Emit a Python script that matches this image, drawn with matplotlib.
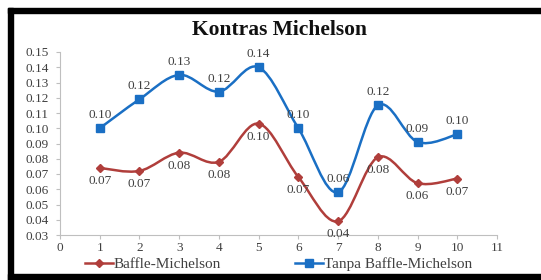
import matplotlib
matplotlib.use("Agg")
import matplotlib.pyplot as plt
import numpy as np
from matplotlib.path import Path
from matplotlib.patches import PathPatch, Rectangle
from matplotlib.lines import Line2D

x_vals = [1, 2, 3, 4, 5, 6, 7, 8, 9, 10]
baffle = [0.074, 0.072, 0.084, 0.078, 0.103, 0.068, 0.039, 0.081, 0.064, 0.067]
tanpa = [0.100, 0.119, 0.135, 0.124, 0.140, 0.100, 0.058, 0.115, 0.091, 0.096]
baffle_labels = ["0.07", "0.07", "0.08", "0.08", "0.10", "0.07", "0.04", "0.08", "0.06", "0.07"]
tanpa_labels = ["0.10", "0.12", "0.13", "0.12", "0.14", "0.10", "0.06", "0.12", "0.09", "0.10"]
title = "Kontras Michelson"
series_names = ["Baffle-Michelson", "Tanpa Baffle-Michelson"]

red = "#B03E3B"
blue = "#1A6FC4"
gray_txt = "#404040"
serif = ["Liberation Serif", "DejaVu Serif"]

fig = plt.figure(figsize=(5.41, 2.8), dpi=100)
ax = fig.add_axes([60/541, 1-235/280, (497-60)/541, (235-52)/280])
ax.set_xlim(0, 11)
ax.set_ylim(0.03, 0.15)
ax.set_xticks(range(0, 12))
ax.set_yticks(np.round(np.arange(0.03, 0.1501, 0.01), 2))
ax.set_yticklabels([f"{v:.2f}" for v in np.arange(0.03, 0.1501, 0.01)])
for s in ["top", "right"]:
    ax.spines[s].set_visible(False)
for s in ["left", "bottom"]:
    ax.spines[s].set_color("#BFBFBF")
    ax.spines[s].set_linewidth(0.8)
ax.tick_params(colors="#BFBFBF", length=3, width=0.8, labelcolor=gray_txt, labelsize=9.5)
ax.tick_params(axis="y", pad=5)
ax.tick_params(axis="x", pad=2)
for lab in ax.get_xticklabels() + ax.get_yticklabels():
    lab.set_fontfamily(serif)

def smooth_path(xs, ys):
    pts = ax.transData.transform(np.column_stack([xs, ys]))
    n = len(pts)
    verts = [pts[0]]
    codes = [Path.MOVETO]
    for i in range(n - 1):
        p0 = pts[i - 1] if i > 0 else pts[i]
        p1 = pts[i]
        p2 = pts[i + 1]
        p3 = pts[i + 2] if i + 2 < n else pts[i + 1]
        c1 = p1 + (p2 - p0) / 6.0
        c2 = p2 - (p3 - p1) / 6.0
        verts += [c1, c2, p2]
        codes += [Path.CURVE4] * 3
    inv = ax.transData.inverted()
    return Path(inv.transform(np.array(verts)), codes)

for ys, col in [(baffle, red), (tanpa, blue)]:
    patch = PathPatch(smooth_path(x_vals, ys), facecolor="none", edgecolor=col, lw=1.8, zorder=3)
    ax.add_patch(patch)

ax.plot(x_vals, baffle, linestyle="none", marker="D", ms=4.5, color=red, zorder=4)
ax.plot(x_vals, tanpa, linestyle="none", marker="s", ms=6, color=blue, zorder=4)

for xv, yv, t in zip(x_vals, tanpa, tanpa_labels):
    ax.annotate(t, (xv, yv), xytext=(0, 5), textcoords="offset points", ha="center", va="bottom",
                fontsize=9.5, color=gray_txt, family=serif, zorder=5)
for xv, yv, t in zip(x_vals, baffle, baffle_labels):
    ax.annotate(t, (xv, yv), xytext=(0, -5), textcoords="offset points", ha="center", va="top",
                fontsize=9.5, color=gray_txt, family=serif, zorder=5)

fig.text(279/541, 1-30/280, title, ha="center", va="center", fontsize=15.5, fontweight="bold",
         family=serif, color="#111111")

# legend
h1 = Line2D([], [], color=red, lw=1.8, marker="D", ms=4.5)
h2 = Line2D([], [], color=blue, lw=1.8, marker="s", ms=6)
for h, name, xl in [(h1, series_names[0], 85), (h2, series_names[1], 295)]:
    leg = fig.legend([h], [name], loc="center left", bbox_to_anchor=(xl/541, 1-264/280),
                     frameon=False, prop={"family": serif, "size": 11},
                     handlelength=1.8, handletextpad=0.1, borderaxespad=0, borderpad=0)
    for t in leg.get_texts():
        t.set_color(gray_txt)

# black frame
fig.patches.append(Rectangle((8/541, 0), 5/541, 1-8/280, transform=fig.transFigure, color="black", zorder=10))
fig.patches.append(Rectangle((8/541, 1-13/280), 1-8/541, 5/280, transform=fig.transFigure, color="black", zorder=10))
fig.patches.append(Rectangle((8/541, 0), 1-8/541, 6/280, transform=fig.transFigure, color="black", zorder=10))

fig.savefig("out.png", dpi=100)
